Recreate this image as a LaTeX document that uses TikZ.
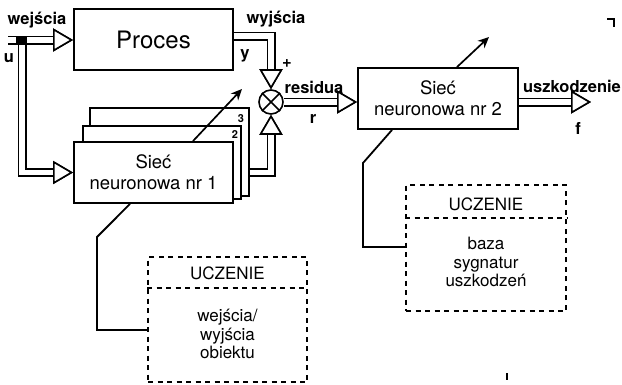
\documentclass[tikz,border=0pt]{standalone}
\usepackage{fontspec}
\setmainfont{TeX Gyre Heros}
\usetikzlibrary{arrows.meta,calc}
\begin{document}
\begin{tikzpicture}[x=1pt,y=-1pt,
  box/.style={draw, line width=1.9pt, fill=white, inner sep=0pt, align=center, minimum width=159pt, minimum height=61pt},
  boxtxt/.style={font=\fontsize{18.5}{21}\selectfont},
  lbl/.style={font=\fontsize{16.5}{18}\selectfont\bfseries, inner sep=0pt},
  num/.style={font=\fontsize{11}{12}\selectfont\bfseries, inner sep=0pt},
  tipw/.tip={Triangle[length=20pt,width=23pt,line width=1.6pt,color=black,fill=white]},
  dbl/.style={white, line width=5.5pt, -tipw, preaction={draw=black, line width=9pt, -tipw}},
  sarrow/.style={line width=1.7pt, -{Stealth[length=11pt,width=10pt]}},
  lconn/.style={line width=1.8pt},
  dashln/.style={line width=1.6pt, dash pattern=on 5pt off 4.5pt},
  dbox/.style={draw, dashln, inner sep=0pt},
  title/.style={font=\fontsize{17}{18}\selectfont, inner sep=0pt},
  body/.style={font=\fontsize{17}{18.5}\selectfont, align=center, inner sep=0pt}
]
\useasboundingbox (0,0) rectangle (622,384);

% coordinates for free ends
\coordinate (inp) at (8,40);
\coordinate (jn) at (22,40);
\coordinate (a1) at (242,89);
\coordinate (a2) at (489,37);
\coordinate (fout) at (591,102);

% blocks
\node[box, font=\fontsize{24}{26}\selectfont] (proc) at (153.5,39.5) {Proces};
\node[box, minimum width=159pt, minimum height=88pt] (b3) at (169.5,152) {};
\node[box, minimum width=158pt, minimum height=73pt] (b2) at (162,162.5) {};
\node[box, boxtxt] (net1) at (153.5,172.5) {Sieć\\neuronowa nr 1};
\node[num] at (241,119) {3};
\node[num] at (235,135) {2};
\node[draw, circle, line width=1.6pt, minimum size=24pt, inner sep=0pt] (sum) at (271,102) {};
\draw[line width=1.6pt] (sum.north west) -- (sum.south east) (sum.north east) -- (sum.south west);
\node[box, boxtxt, minimum width=160pt] (net2) at (438,98.5) {Sieć\\neuronowa nr 2};

% learning boxes
\node[dbox, minimum width=159pt, minimum height=125pt] (L1) at (227.5,319.5) {};
\draw[dashln] (L1.west |- 0,288) -- (L1.east |- 0,288);
\node[title] at (227.5,273) {UCZENIE};
\node[body] at (227.5,334) {wejścia/\\wyjścia\\obiektu};

\node[dbox, minimum width=160pt, minimum height=126pt] (L2) at (486,248) {};
\draw[dashln] (L2.west |- 0,218) -- (L2.east |- 0,218);
\node[title] at (486,204) {UCZENIE};
\node[body] at (486,262) {baza\\sygnatur\\uszkodzeń};

% double (hollow) connectors
\draw[dbl] (jn) |- (net1.west);
\draw[dbl] (inp) -- (proc.west |- inp);
\fill (16,36) rectangle (27,44);
\draw[dbl] ($(proc.east)+(0,-3.5)$) -| (sum.north);
\draw[dbl] (b3.east |- net1.east) -| (sum.south);
\draw[dbl] (sum.east) -- (net2.west |- sum.east);
\draw[dbl] (net2.east |- sum.east) -- (fout);

% adaptation arrows
\draw[sarrow] ($(net1.north)+(39.5,0)$) -- (a1);
\draw[sarrow] ($(net2.north)+(19,0)$) -- (a2);

% learning connectors
\draw[lconn] ($(net1.south)+(-23.5,0)$) -- (97,237) -- (97,330) -- (L1.west |- 0,330);
\draw[lconn] ($(net2.south)+(-46,0)$) -- (363,163) -- (363,247) -- (L2.west |- 0,247);

% labels
\node[lbl] at (37,20) {wejścia};
\node[lbl] at (9,58) {u};
\node[lbl] at (276,19) {wyjścia};
\node[lbl] at (245,56) {y};
\node[lbl] at (287,64) {+};
\node[lbl] at (314,87) {residua};
\node[lbl] at (313,119) {r};
\node[lbl] at (572,86) {uszkodzenie};
\node[lbl] at (578,128) {f};

% scan marks
\draw[line width=1.2pt] (607,19) -- (614,19) -- (614,27);
\draw[line width=1.2pt] (507,373) -- (507,380);
\end{tikzpicture}
\end{document}
